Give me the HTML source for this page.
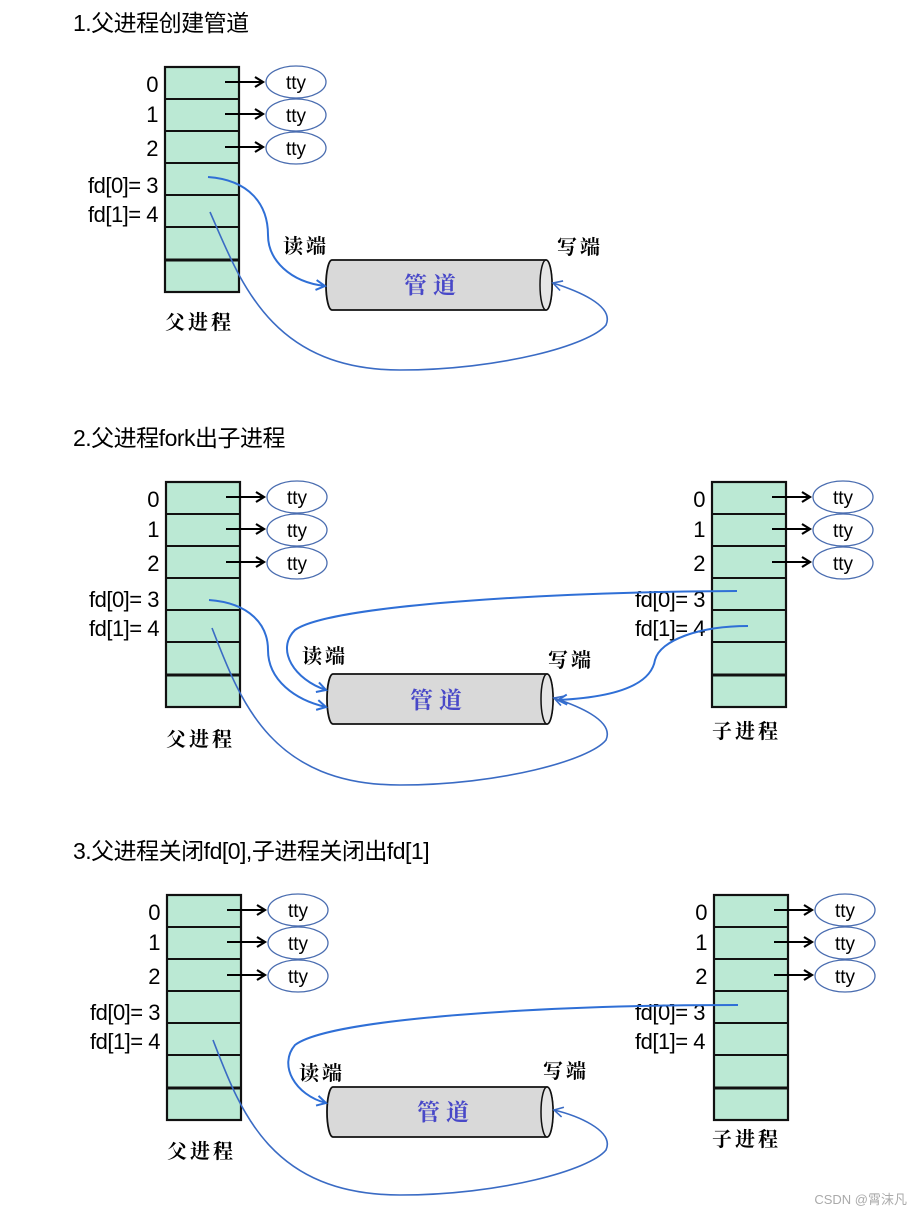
<!DOCTYPE html>
<html><head><meta charset="utf-8"><style>
html,body{margin:0;padding:0;background:#fff;}
svg{display:block;}
.t{font-family:"Liberation Sans","Noto Sans CJK SC",sans-serif;font-size:23px;fill:#000;letter-spacing:-0.5px;}
.n{font-family:"Liberation Sans",sans-serif;font-size:22px;fill:#000;text-anchor:end;letter-spacing:-0.5px;}
.tty{font-family:"Liberation Sans",sans-serif;font-size:19px;fill:#000;text-anchor:middle;}
.s{font-family:"Noto Serif CJK SC","WenQuanYi Zen Hei",serif;font-size:20px;font-weight:bold;fill:#000;letter-spacing:3px;}
.p{font-family:"Noto Serif CJK SC","WenQuanYi Zen Hei",serif;font-size:23px;font-weight:bold;fill:#4848c8;letter-spacing:6px;}
.c{fill:none;stroke:#3a6bc4;stroke-width:1.6;}
.c2{fill:none;stroke:#2f6fd6;stroke-width:2;}
</style></head><body>
<svg width="923" height="1216" viewBox="0 0 923 1216" xmlns="http://www.w3.org/2000/svg">
<defs>
<marker id="ab" markerWidth="12" markerHeight="12" refX="9" refY="6" orient="auto" markerUnits="userSpaceOnUse"><path d="M1,1 L9,6 L1,11" fill="none" stroke="#000" stroke-width="2.2"/></marker>
<marker id="ac" markerWidth="12" markerHeight="12" refX="10" refY="6" orient="auto" markerUnits="userSpaceOnUse"><path d="M1,1 L10,6 L1,11" fill="none" stroke="#2f6fd6" stroke-width="2"/></marker>
<marker id="ad" markerWidth="12" markerHeight="12" refX="10" refY="6" orient="auto" markerUnits="userSpaceOnUse"><path d="M1,1 L10,6 L1,11" fill="none" stroke="#3a6bc4" stroke-width="1.6"/></marker>
<g id="tbl">
<rect x="0" y="0" width="74" height="225" fill="#bbe9d4" stroke="#111" stroke-width="2.2"/>
<path d="M0,32 H74 M0,64 H74 M0,96 H74 M0,128 H74 M0,160 H74" stroke="#111" stroke-width="2"/>
<path d="M0,193 H74" stroke="#111" stroke-width="3"/>
<path d="M60,15 H98" stroke="#000" stroke-width="2" marker-end="url(#ab)"/>
<path d="M60,47 H98" stroke="#000" stroke-width="2" marker-end="url(#ab)"/>
<path d="M60,80 H98" stroke="#000" stroke-width="2" marker-end="url(#ab)"/>
<ellipse cx="131" cy="15" rx="30" ry="16" fill="#fff" stroke="#4a6db0" stroke-width="1.3"/>
<ellipse cx="131" cy="48" rx="30" ry="16" fill="#fff" stroke="#4a6db0" stroke-width="1.3"/>
<ellipse cx="131" cy="81" rx="30" ry="16" fill="#fff" stroke="#4a6db0" stroke-width="1.3"/>
</g>
<g id="pipe">
<path d="M6,0 L220,0 A6,25 0 0 1 220,50 L6,50 A6,25 0 0 1 6,0 Z" fill="#d9d9d9" stroke="#111" stroke-width="1.8"/>
<ellipse cx="220" cy="25" rx="6" ry="25" fill="#e6e6e6" stroke="#111" stroke-width="1.5"/>
</g>
</defs>

<!-- Panel 1 -->
<text class="t" x="73" y="31">1.父进程创建管道</text>
<use href="#tbl" x="165" y="67"/>
<text class="tty" x="296" y="89">tty</text><text class="tty" x="296" y="122">tty</text><text class="tty" x="296" y="155">tty</text>
<text class="n" x="158" y="92">0</text><text class="n" x="158" y="122">1</text><text class="n" x="158" y="156">2</text>
<text class="n" x="158" y="193">fd[0]= 3</text><text class="n" x="158" y="222">fd[1]= 4</text>
<text class="s" x="165" y="329">父进程</text>
<use href="#pipe" x="326" y="260"/>
<text class="p" x="404" y="293">管道</text>
<text class="s" x="283" y="253">读端</text><text class="s" x="557" y="254">写端</text>
<path class="c2" d="M208,177 C250,180 268,205 268,235 C268,260 290,282 325,286" marker-end="url(#ac)"/>
<path class="c" d="M210,212 C240,280 270,370 400,370 C500,370 590,345 606,325 C615,305 575,290 553,283" marker-end="url(#ad)"/>

<!-- Panel 2 -->
<text class="t" x="73" y="446">2.父进程fork出子进程</text>
<use href="#tbl" x="166" y="482"/>
<text class="tty" x="297" y="504">tty</text><text class="tty" x="297" y="537">tty</text><text class="tty" x="297" y="570">tty</text>
<text class="n" x="159" y="507">0</text><text class="n" x="159" y="537">1</text><text class="n" x="159" y="571">2</text>
<text class="n" x="159" y="607">fd[0]= 3</text><text class="n" x="159" y="636">fd[1]= 4</text>
<text class="s" x="166" y="746">父进程</text>
<use href="#tbl" x="712" y="482"/>
<text class="tty" x="843" y="504">tty</text><text class="tty" x="843" y="537">tty</text><text class="tty" x="843" y="570">tty</text>
<text class="n" x="705" y="507">0</text><text class="n" x="705" y="537">1</text><text class="n" x="705" y="571">2</text>
<text class="n" x="705" y="607">fd[0]= 3</text><text class="n" x="705" y="636">fd[1]= 4</text>
<text class="s" x="712" y="738">子进程</text>
<use href="#pipe" x="327" y="674"/>
<text class="p" x="410" y="708">管道</text>
<text class="s" x="302" y="663">读端</text><text class="s" x="548" y="667">写端</text>
<path class="c2" d="M209,600 C250,603 268,625 268,650 C268,680 295,700 326,707" marker-end="url(#ac)"/>
<path class="c2" d="M737,591 C550,592 330,605 295,630 C275,650 295,680 326,690" marker-end="url(#ac)"/>
<path class="c2" d="M748,626 C700,626 660,640 655,660 C650,690 600,698 558,700" marker-end="url(#ac)"/>
<path class="c" d="M212,628 C240,700 270,785 400,785 C500,785 590,760 606,740 C615,720 575,705 554,698" marker-end="url(#ad)"/>

<!-- Panel 3 -->
<text class="t" x="73" y="859">3.父进程关闭fd[0],子进程关闭出fd[1]</text>
<use href="#tbl" x="167" y="895"/>
<text class="tty" x="298" y="917">tty</text><text class="tty" x="298" y="950">tty</text><text class="tty" x="298" y="983">tty</text>
<text class="n" x="160" y="920">0</text><text class="n" x="160" y="950">1</text><text class="n" x="160" y="984">2</text>
<text class="n" x="160" y="1020">fd[0]= 3</text><text class="n" x="160" y="1049">fd[1]= 4</text>
<text class="s" x="167" y="1158">父进程</text>
<use href="#tbl" x="714" y="895"/>
<text class="tty" x="845" y="917">tty</text><text class="tty" x="845" y="950">tty</text><text class="tty" x="845" y="983">tty</text>
<text class="n" x="707" y="920">0</text><text class="n" x="707" y="950">1</text><text class="n" x="707" y="984">2</text>
<text class="n" x="705" y="1020">fd[0]= 3</text><text class="n" x="705" y="1049">fd[1]= 4</text>
<text class="s" x="712" y="1146">子进程</text>
<use href="#pipe" x="327" y="1087"/>
<text class="p" x="417" y="1120">管道</text>
<text class="s" x="299" y="1080">读端</text><text class="s" x="543" y="1078">写端</text>
<path class="c2" d="M738,1005 C550,1005 330,1018 295,1045 C278,1065 295,1095 326,1103" marker-end="url(#ac)"/>
<path class="c" d="M213,1040 C240,1110 270,1195 400,1195 C500,1195 590,1170 606,1150 C615,1130 575,1115 554,1110" marker-end="url(#ad)"/>
<text x="907" y="1204" text-anchor="end" style="font-family:'Liberation Sans','Noto Sans CJK SC',sans-serif;font-size:13px;fill:#aaa;">CSDN @霄沫凡</text>
</svg>
</body></html>
